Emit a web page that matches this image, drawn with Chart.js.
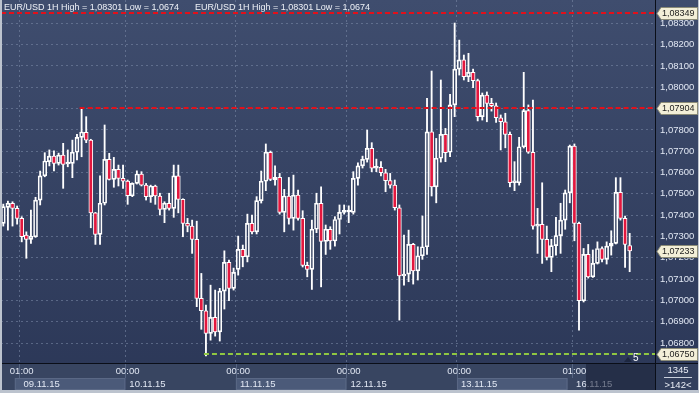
<!DOCTYPE html>
<html>
<head>
<meta charset="utf-8">
<title>EUR/USD 1H</title>
<script src="https://cdn.jsdelivr.net/npm/chart.js@4.4.1/dist/chart.umd.min.js"></script>
<style>
  html, body { margin: 0; padding: 0; background: #2f3b5a; }
  #wrap { width: 699px; height: 393px; position: relative; }
</style>
</head>
<body>
<div id="wrap"><canvas id="chart" width="699" height="393"></canvas></div>
<script>
// === DATA (EUR/USD, 1H candles, 08.11.15 21:00 -> 16.11.15 13:00) ===
const slotCount = 142; // visible bar slots (">142<"), last ones are empty
const slots = Array.from({ length: slotCount }, (_, i) => "bar" + i);

const opens = [
  1.07362, 1.07437, 1.07456, 1.07432, 1.07385, 1.07307, 1.07287, 1.07299, 1.07471, 1.07584,
  1.07651, 1.07677, 1.07643, 1.07682, 1.07640, 1.07643, 1.07695, 1.07765, 1.07789, 1.07752,
  1.07411, 1.07310, 1.07456, 1.07662, 1.07568, 1.07615, 1.07573, 1.07560, 1.07491, 1.07549,
  1.07593, 1.07541, 1.07487, 1.07537, 1.07490, 1.07427, 1.07456, 1.07432, 1.07584, 1.07474,
  1.07362, 1.07349, 1.07287, 1.07010, 1.06952, 1.06846, 1.06921, 1.06853, 1.07044, 1.07179,
  1.07057, 1.07146, 1.07240, 1.07205, 1.07362, 1.07322, 1.07468, 1.07559, 1.07695, 1.07565,
  1.07577, 1.07413, 1.07490, 1.07385, 1.07494, 1.07385, 1.07165, 1.07146, 1.07334, 1.07456,
  1.07277, 1.07334, 1.07279, 1.07380, 1.07413, 1.07415, 1.07413, 1.07573, 1.07631, 1.07662,
  1.07713, 1.07620, 1.07624, 1.07599, 1.07562, 1.07541, 1.07435, 1.07115, 1.07124, 1.07263,
  1.07139, 1.07210, 1.07252, 1.07791, 1.07533, 1.07667, 1.07779, 1.07695, 1.07917, 1.08085,
  1.08128, 1.08049, 1.08070, 1.08031, 1.07862, 1.07963, 1.07924, 1.07913, 1.07857, 1.07838,
  1.07779, 1.07552, 1.07552, 1.07721, 1.07890, 1.07695, 1.07349, 1.07357, 1.07287, 1.07202,
  1.07257, 1.07304, 1.07377, 1.07505, 1.07724, 1.07362, 1.06999, 1.07216, 1.07111, 1.07174,
  1.07244, 1.07193, 1.07255, 1.07268, 1.07507, 1.07385, 1.07258
];
const highs = [
  1.07452, 1.07466, 1.07463, 1.07443, 1.07393, 1.07322, 1.07424, 1.07484, 1.07607, 1.07693,
  1.07706, 1.07702, 1.07691, 1.07737, 1.07706, 1.07752, 1.07779, 1.07904, 1.07862, 1.07756,
  1.07413, 1.07584, 1.07823, 1.07690, 1.07671, 1.07635, 1.07635, 1.07565, 1.07552, 1.07608,
  1.07604, 1.07549, 1.07541, 1.07541, 1.07503, 1.07463, 1.07503, 1.07635, 1.07635, 1.07477,
  1.07385, 1.07377, 1.07372, 1.07127, 1.06979, 1.07072, 1.07049, 1.07057, 1.07233, 1.07190,
  1.07152, 1.07302, 1.07260, 1.07405, 1.07401, 1.07487, 1.07607, 1.07734, 1.07701, 1.07631,
  1.07596, 1.07521, 1.07577, 1.07588, 1.07518, 1.07421, 1.07180, 1.07377, 1.07503, 1.07533,
  1.07354, 1.07346, 1.07393, 1.07448, 1.07448, 1.07444, 1.07604, 1.07646, 1.07677, 1.07799,
  1.07740, 1.07663, 1.07651, 1.07615, 1.07596, 1.07565, 1.07448, 1.07307, 1.07330, 1.07268,
  1.07252, 1.07396, 1.07948, 1.08076, 1.07760, 1.08034, 1.07807, 1.07967, 1.08301, 1.08221,
  1.08151, 1.08159, 1.08085, 1.08038, 1.07973, 1.07978, 1.07948, 1.07926, 1.07870, 1.07878,
  1.07790, 1.07651, 1.07765, 1.08070, 1.07917, 1.07940, 1.07432, 1.07552, 1.07349, 1.07287,
  1.07390, 1.07456, 1.07518, 1.07729, 1.07734, 1.07368, 1.07244, 1.07263, 1.07237, 1.07275,
  1.07252, 1.07275, 1.07327, 1.07576, 1.07576, 1.07396, 1.07315
];
const lows = [
  1.07349, 1.07330, 1.07349, 1.07358, 1.07275, 1.07198, 1.07268, 1.07296, 1.07448, 1.07580,
  1.07631, 1.07608, 1.07635, 1.07526, 1.07627, 1.07576, 1.07659, 1.07674, 1.07740, 1.07341,
  1.07263, 1.07263, 1.07448, 1.07565, 1.07531, 1.07537, 1.07526, 1.07451, 1.07487, 1.07546,
  1.07537, 1.07471, 1.07460, 1.07451, 1.07401, 1.07365, 1.07424, 1.07390, 1.07411, 1.07299,
  1.07322, 1.07221, 1.06971, 1.06865, 1.06740, 1.06814, 1.06833, 1.06810, 1.06960, 1.06999,
  1.07049, 1.07119, 1.07158, 1.07181, 1.07312, 1.07312, 1.07457, 1.07515, 1.07562, 1.07541,
  1.07405, 1.07322, 1.07358, 1.07330, 1.07377, 1.07157, 1.07111, 1.07052, 1.07318, 1.07064,
  1.07216, 1.07240, 1.07255, 1.07312, 1.07405, 1.07365, 1.07405, 1.07541, 1.07621, 1.07649,
  1.07604, 1.07604, 1.07584, 1.07510, 1.07527, 1.07424, 1.06908, 1.07072, 1.07088, 1.07077,
  1.07096, 1.07193, 1.07216, 1.07490, 1.07458, 1.07649, 1.07651, 1.07674, 1.07862, 1.08057,
  1.08034, 1.08026, 1.07998, 1.07842, 1.07846, 1.07838, 1.07888, 1.07835, 1.07706, 1.07716,
  1.07533, 1.07515, 1.07541, 1.07715, 1.07690, 1.07334, 1.07221, 1.07174, 1.07190, 1.07135,
  1.07213, 1.07221, 1.07334, 1.07458, 1.07280, 1.06861, 1.06993, 1.07105, 1.07108, 1.07171,
  1.07181, 1.07171, 1.07213, 1.07265, 1.07377, 1.07155, 1.07135
];
const closes = [
  1.07440, 1.07456, 1.07432, 1.07385, 1.07299, 1.07287, 1.07302, 1.07471, 1.07584, 1.07654,
  1.07677, 1.07643, 1.07682, 1.07638, 1.07646, 1.07695, 1.07765, 1.07790, 1.07752, 1.07411,
  1.07310, 1.07456, 1.07662, 1.07568, 1.07615, 1.07573, 1.07560, 1.07491, 1.07549, 1.07593,
  1.07541, 1.07487, 1.07537, 1.07490, 1.07427, 1.07456, 1.07432, 1.07584, 1.07474, 1.07362,
  1.07349, 1.07287, 1.07010, 1.06952, 1.06846, 1.06921, 1.06853, 1.07044, 1.07179, 1.07057,
  1.07132, 1.07240, 1.07205, 1.07362, 1.07322, 1.07468, 1.07559, 1.07695, 1.07568, 1.07577,
  1.07413, 1.07490, 1.07385, 1.07494, 1.07385, 1.07165, 1.07146, 1.07334, 1.07456, 1.07277,
  1.07334, 1.07279, 1.07380, 1.07413, 1.07416, 1.07417, 1.07573, 1.07631, 1.07662, 1.07713,
  1.07620, 1.07624, 1.07599, 1.07562, 1.07541, 1.07435, 1.07115, 1.07124, 1.07263, 1.07139,
  1.07210, 1.07252, 1.07791, 1.07533, 1.07667, 1.07779, 1.07693, 1.07917, 1.08085, 1.08128,
  1.08049, 1.08070, 1.08031, 1.07862, 1.07963, 1.07924, 1.07913, 1.07857, 1.07838, 1.07779,
  1.07552, 1.07560, 1.07721, 1.07890, 1.07695, 1.07349, 1.07354, 1.07287, 1.07202, 1.07257,
  1.07304, 1.07377, 1.07505, 1.07724, 1.07362, 1.06999, 1.07216, 1.07111, 1.07174, 1.07244,
  1.07193, 1.07255, 1.07268, 1.07507, 1.07385, 1.07263, 1.07233
];

// x axis: hour ticks and day boxes (slot indices)
const timeTickIdx = [4, 27, 51, 75, 99, 124];
const timeTickText = ["01:00", "00:00", "00:00", "00:00", "00:00", "01:00"];
const dayStartIdx = [3, 27, 51, 75, 99, 123];
const dayEndIdx = [26, 50, 74, 98, 122, 141];
const dayText = ["09.11.15", "10.11.15", "11.11.15", "12.11.15", "13.11.15", "16.11.15"];

// y axis
const yMin = 1.06707, yMax = 1.08409, yStep = 0.001;
const yTickTop = 1.083, yTickBottom = 1.068;

// marked levels
const highLevel = 1.08349;     // red dashed, whole width
const resistLevel = 1.07904;   // red dashed from bar 17
const resistFrom = 17;
const lowLevel = 1.0675;       // green dashed from bar 44
const lowFrom = 44;
const lastPrice = 1.07233;
const headerText = "EUR/USD 1H High = 1,08301 Low = 1,0674";
// =================

const FONT = "'Liberation Sans', Arial, sans-serif";
const TXT = "#e2e8f4";
const RED = "#e3173e";
const GRID = "rgba(125,140,170,0.55)";

const fmt = v => v.toFixed(5).replace(".", ",");

const upper = opens.map((o, i) => [Math.max(o, closes[i]), highs[i]]);
const lower = opens.map((o, i) => [lows[i], Math.min(o, closes[i])]);
const bodies = opens.map((o, i) => [Math.min(o, closes[i]), Math.max(o, closes[i])]);
const bodyFill = opens.map((o, i) => closes[i] >= o ? "rgba(0,0,0,0)" : RED);

const decor = {
  id: "decor",
  beforeDraw(chart) {
    const { ctx, chartArea: a, width, height } = chart;
    ctx.save();
    const g = ctx.createLinearGradient(0, 0, 0, height);
    g.addColorStop(0, "#3f4d6e");
    g.addColorStop(1, "#2b3757");
    ctx.fillStyle = g;
    ctx.fillRect(0, 0, width, height);
    ctx.fillStyle = "#384561";
    ctx.fillRect(0, a.bottom, a.right, height - a.bottom);
    ctx.fillStyle = "#323f5c";
    ctx.fillRect(a.right, a.bottom, width - a.right, height - a.bottom);
    ctx.restore();
  },
  afterDatasetsDraw(chart) {
    const { ctx, chartArea: a, scales: { x, y } } = chart;
    ctx.save();
    ctx.lineWidth = 2;
    const dashLine = (val, fromX, color, dash) => {
      const py = Math.round(y.getPixelForValue(val));
      ctx.strokeStyle = color;
      ctx.setLineDash(dash);
      ctx.beginPath();
      ctx.moveTo(fromX, py);
      ctx.lineTo(a.right, py);
      ctx.stroke();
    };
    dashLine(highLevel, a.left, "#e3101a", [5, 3]);
    dashLine(resistLevel, x.getPixelForValue(resistFrom) - 2, "#e3101a", [5, 3]);
    dashLine(lowLevel, x.getPixelForValue(lowFrom) - 2, "#8fc742", [5, 3]);
    ctx.setLineDash([]);
    // small marker with "5"
    ctx.fillStyle = "#1d2740";
    ctx.beginPath();
    ctx.moveTo(624, 362); ctx.lineTo(628, 357); ctx.lineTo(632, 362);
    ctx.fill();
    ctx.fillStyle = "#ffffff";
    ctx.font = "10px " + FONT;
    ctx.textBaseline = "middle";
    ctx.fillText("5", 633, 358);
    ctx.restore();
  },
  afterDraw(chart) {
    const { ctx, chartArea: a, width, height, scales: { x, y } } = chart;
    const half = (x.getPixelForValue(1) - x.getPixelForValue(0)) / 2;
    ctx.save();

    // day boxes
    ctx.font = "9.5px " + FONT;
    ctx.textBaseline = "middle";
    dayText.forEach((t, k) => {
      const x0 = x.getPixelForValue(dayStartIdx[k]) - half;
      const x1 = Math.min(x.getPixelForValue(dayEndIdx[k]) + half, a.right);
      if (k % 2 === 0) {
        ctx.fillStyle = "#4b5a79";
        ctx.fillRect(x0, 378, x1 - x0, 12);
        ctx.strokeStyle = "#5a6885";
        ctx.strokeRect(x0 + 0.5, 378.5, x1 - x0 - 1, 11);
      }
      ctx.fillStyle = TXT;
      ctx.fillText(t, x.getPixelForValue(timeTickIdx[k]) - half + 4, 384);
    });

    // tick marks in the time strip
    ctx.strokeStyle = "rgba(125,140,170,0.45)";
    ctx.lineWidth = 1;
    timeTickIdx.forEach(i => {
      const px = Math.round(x.getPixelForValue(i) - half) + 0.5;
      ctx.beginPath(); ctx.moveTo(px, a.bottom); ctx.lineTo(px, 378); ctx.stroke();
    });

    // dimmed area at right of the time strip
    ctx.fillStyle = "rgba(22,30,52,0.55)";
    ctx.fillRect(586, a.bottom + 1, a.right - 586, height - a.bottom);

    // separators
    ctx.strokeStyle = "#0a0e18";
    ctx.beginPath();
    ctx.moveTo(Math.round(a.right) + 0.5, 0); ctx.lineTo(Math.round(a.right) + 0.5, height);
    ctx.moveTo(0, Math.round(a.bottom) + 0.5); ctx.lineTo(width, Math.round(a.bottom) + 0.5);
    ctx.stroke();

    // header
    ctx.fillStyle = "#eef1f7";
    ctx.font = "9px " + FONT;
    ctx.fillText(headerText, 4, 8);
    ctx.fillText(headerText, 195, 8);

    // price labels on the axis
    const tag = val => {
      const py = Math.round(y.getPixelForValue(val)) + 0.5;
      const l = a.right + 2, r = width - 1.5;
      ctx.beginPath();
      ctx.moveTo(l, py);
      ctx.lineTo(l + 4, py - 6);
      ctx.lineTo(r, py - 6);
      ctx.lineTo(r, py + 6);
      ctx.lineTo(l + 4, py + 6);
      ctx.closePath();
      ctx.fillStyle = "#f3efd8";
      ctx.fill();
      ctx.strokeStyle = "#8c8c78";
      ctx.stroke();
      ctx.fillStyle = "#1c1c1c";
      ctx.font = "9px " + FONT;
      ctx.fillText(fmt(val), l + 5, py + 0.5);
    };
    tag(highLevel);
    tag(resistLevel);
    tag(lastPrice);
    tag(lowLevel);

    // bars counter
    ctx.fillStyle = "#e9edf5";
    ctx.font = "9.5px " + FONT;
    ctx.textAlign = "center";
    ctx.fillText("1345", 678, 370);
    ctx.fillText(">142<", 678, 385);
    ctx.strokeStyle = "#c9d0dc";
    ctx.beginPath(); ctx.moveTo(664, 377.5); ctx.lineTo(692, 377.5); ctx.stroke();

    // outer frame
    ctx.fillStyle = "#bcc3ce";
    ctx.fillRect(0, 0, 2, height);
    ctx.fillRect(0, height - 3, width, 3);
    ctx.fillRect(width - 1, 0, 1, height);
    ctx.restore();
  }
};

const noPad = s => { s.paddingTop = 0; s.paddingBottom = 0; s.paddingLeft = 0; s.paddingRight = 0; };

new Chart(document.getElementById("chart"), {
  type: "bar",
  data: {
    labels: slots,
    datasets: [
      { data: upper, backgroundColor: "#ffffff", barThickness: 1.2, grouped: false, order: 2 },
      { data: lower, backgroundColor: "#ffffff", barThickness: 1.2, grouped: false, order: 2 },
      {
        data: bodies, backgroundColor: bodyFill, borderColor: "#ffffff", borderWidth: 1,
        borderSkipped: false, barThickness: 4, minBarLength: 2, grouped: false, order: 1
      }
    ]
  },
  options: {
    responsive: false,
    animation: false,
    devicePixelRatio: 1,
    layout: { padding: { left: 1, top: 0, right: 0, bottom: 0 } },
    plugins: { legend: { display: false }, tooltip: { enabled: false } },
    scales: {
      x: {
        type: "category",
        offset: true,
        afterFit: s => { s.height = 30; noPad(s); },
        ticks: {
          autoSkip: false, maxRotation: 0, minRotation: 0, padding: 3,
          color: TXT, font: { family: FONT, size: 9.5 },
          callback: (v, i) => {
            const k = timeTickIdx.indexOf(i);
            return k >= 0 ? timeTickText[k] : "";
          }
        },
        grid: {
          offset: true, drawTicks: false,
          color: c => timeTickIdx.includes(c.index) ? GRID : "rgba(0,0,0,0)"
        },
        border: { display: false, dash: [2, 3] }
      },
      y: {
        position: "right",
        min: yMin, max: yMax,
        afterFit: s => { s.width = 44; noPad(s); },
        afterBuildTicks: s => {
          s.ticks = s.ticks.filter(t => t.value <= yTickTop + 1e-7 && t.value >= yTickBottom - 1e-7);
        },
        ticks: {
          stepSize: yStep, includeBounds: false, padding: 5,
          color: TXT, font: { family: FONT, size: 9.5 },
          callback: v => fmt(v)
        },
        grid: { color: GRID, drawTicks: false },
        border: { display: false, dash: [2, 3] }
      }
    }
  },
  plugins: [decor]
});
</script>
</body>
</html>
